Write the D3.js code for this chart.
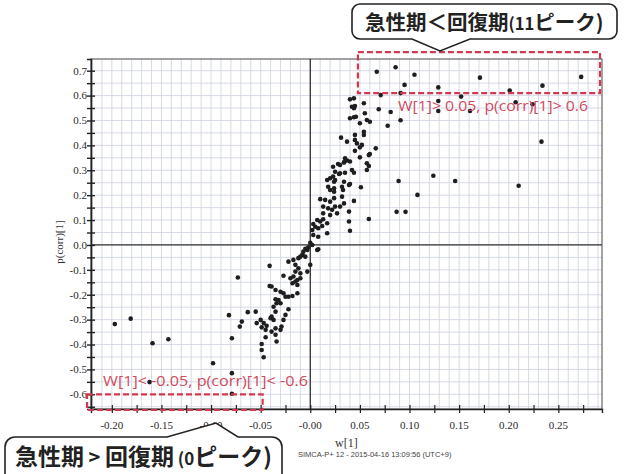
<!DOCTYPE html>
<html>
<head>
<meta charset="utf-8">
<script src="https://cdn.jsdelivr.net/npm/d3@7"></script>
<style>
  body { margin: 0; background: #fff; }
</style>
</head>
<body>
<script>
// loadings: w[1] and p(corr)[1]
const w1 = [
  0.067, 0.086, 0.105, 0.095, 0.129, 0.171, 0.201, 0.234, 0.273, 0.091, 0.071,
  0.152, 0.129, 0.207, 0.224, 0.081, 0.129, 0.161, 0.091, 0.078, 0.233, 0.089,
  0.124, 0.146, 0.210, 0.108, 0.087, 0.096, 0.069, 0.059, 0.040, 0.039, 0.044,
  0.066, 0.059, 0.059, 0.057, 0.051, 0.054, 0.040, 0.044, 0.042, 0.045, 0.044,
  0.055, 0.040, 0.044, 0.046, 0.057, 0.060, 0.050, 0.045, 0.054, 0.054, 0.031,
  0.037, 0.045, 0.047, 0.052, 0.050, 0.045, 0.035, 0.037, 0.034, 0.050, 0.060,
  0.057, 0.030, 0.023, 0.042, 0.044, 0.025, 0.029, 0.017, 0.020, 0.024, 0.025,
  0.034, 0.024, 0.040, 0.033, 0.028, 0.034, 0.040, 0.030, 0.035, 0.023, 0.032,
  0.039, 0.018, 0.020, 0.024, 0.010, 0.015, 0.020, 0.024, 0.032, 0.034, 0.030,
  0.013, 0.018, 0.022, 0.025, 0.013, 0.020, 0.027, 0.039, 0.007, 0.010, 0.013,
  0.017, 0.005, 0.008, 0.012, 0.017, 0.003, 0.008, 0.000, 0.002, -0.002, -0.003,
  -0.007, -0.008, -0.010, 0.008, 0.003, 0.002, -0.005, 0.007, -0.022, -0.017,
  -0.012, -0.005, 0.000, -0.003, -0.041, -0.073, -0.015, -0.012, -0.015, -0.010,
  -0.027, -0.020, -0.017, -0.013, -0.010, -0.018, -0.013, -0.015, -0.041, -0.039,
  -0.035, -0.030, -0.027, -0.025, -0.022, -0.018, -0.013, -0.035, -0.032, -0.034,
  -0.030, -0.022, -0.037, -0.035, -0.063, -0.055, -0.025, -0.027, -0.039, -0.037,
  -0.040, -0.069, -0.071, -0.050, -0.054, -0.047, -0.044, -0.049, -0.045, -0.029,
  -0.030, -0.035, -0.034, -0.045, -0.049, -0.047, -0.049, -0.079, -0.035, -0.039,
  -0.082, -0.079, -0.098, -0.079, -0.162, -0.197, -0.181, -0.159, -0.143
];
const pcorr1 = [
  0.696, 0.714, 0.684, 0.643, 0.633, 0.672, 0.620, 0.640, 0.675, 0.610, 0.602,
  0.596, 0.578, 0.573, 0.565, 0.534, 0.538, 0.538, 0.501, 0.479, 0.415, 0.257,
  0.278, 0.257, 0.238, 0.201, 0.133, 0.133, 0.545, 0.104, 0.057, 0.134, 0.177,
  0.388, 0.361, 0.317, 0.301, 0.232, 0.569, 0.585, 0.589, 0.555, 0.558, 0.549,
  0.529, 0.509, 0.513, 0.515, 0.502, 0.495, 0.489, 0.442, 0.455, 0.442, 0.431,
  0.415, 0.422, 0.408, 0.402, 0.392, 0.378, 0.348, 0.339, 0.332, 0.352, 0.365,
  0.328, 0.321, 0.314, 0.301, 0.290, 0.294, 0.285, 0.261, 0.268, 0.254, 0.261,
  0.254, 0.228, 0.245, 0.221, 0.325, 0.331, 0.335, 0.288, 0.290, 0.275, 0.234,
  0.241, 0.234, 0.221, 0.214, 0.184, 0.181, 0.174, 0.188, 0.194, 0.167, 0.154,
  0.154, 0.147, 0.141, 0.154, 0.127, 0.120, 0.127, 0.094, 0.100, 0.094, 0.103,
  0.087, 0.073, 0.067, 0.076, 0.047, 0.040, 0.033, 0.009, 0.000, -0.009, -0.020,
  -0.027, -0.040, -0.047, -0.017, 0.084, 0.060, -0.015, -0.020, -0.067, -0.060,
  -0.053, -0.047, -0.080, -0.107, -0.084, -0.131, -0.080, -0.094, -0.107, -0.114,
  -0.124, -0.134, -0.127, -0.141, -0.134, -0.154, -0.161, -0.147, -0.165, -0.167,
  -0.181, -0.188, -0.194, -0.208, -0.208, -0.205, -0.194, -0.218, -0.221, -0.234,
  -0.234, -0.258, -0.248, -0.268, -0.270, -0.268, -0.281, -0.301, -0.288, -0.301,
  -0.294, -0.308, -0.328, -0.301, -0.314, -0.314, -0.325, -0.331, -0.341, -0.328,
  -0.341, -0.361, -0.388, -0.371, -0.398, -0.451, -0.422, -0.375, -0.335, -0.348,
  -0.282, -0.515, -0.475, -0.598, -0.551, -0.318, -0.296, -0.395, -0.379
];
const xTicks = [-0.20, -0.15, -0.10, -0.05, 0, 0.05, 0.10, 0.15, 0.20, 0.25];
const yTicks = [0.7, 0.6, 0.5, 0.4, 0.3, 0.2, 0.1, 0, -0.1, -0.2, -0.3, -0.4, -0.5, -0.6];
const wCut = 0.05, pCut = 0.6;
const upLabel = "W[1]> 0.05, p(corr)[1]> 0.6";
const downLabel = "W[1]< -0.05, p(corr)[1]< -0.6";

const width = 628, height = 474;
const pl = 91, pr = 602, pt = 59, pb = 409;

const x = d3.scaleLinear().domain([-0.221, 0.294]).range([pl, pr]);
const y = d3.scaleLinear().domain([-0.659, 0.747]).range([pb, pt]);

const svg = d3.select("body").append("svg")
    .attr("width", width)
    .attr("height", height)
    .style("font-family", "'Liberation Serif', serif");

// grid
const grid = svg.append("g").attr("stroke", "#cdd1e2").attr("stroke-width", 0.8);
grid.selectAll("line.v")
  .data(d3.range(-22, 30).map(i => i / 100))
  .join("line")
    .attr("class", "v")
    .attr("x1", d => x(d)).attr("x2", d => x(d))
    .attr("y1", pt).attr("y2", pb);
grid.selectAll("line.h")
  .data(d3.range(-13, 15).map(i => i / 20))
  .join("line")
    .attr("class", "h")
    .attr("x1", pl).attr("x2", pr)
    .attr("y1", d => y(d)).attr("y2", d => y(d));

// frame
svg.append("rect")
    .attr("x", pl).attr("y", pt)
    .attr("width", pr - pl).attr("height", pb - pt)
    .attr("fill", "none").attr("stroke", "#666").attr("stroke-width", 1.2);

// zero lines
svg.append("line")
    .attr("x1", x(0)).attr("x2", x(0)).attr("y1", pt).attr("y2", pb)
    .attr("stroke", "#333").attr("stroke-width", 1.3);
svg.append("line")
    .attr("x1", pl).attr("x2", pr).attr("y1", y(0)).attr("y2", y(0))
    .attr("stroke", "#333").attr("stroke-width", 1.3);

// axes
const yAxis = svg.append("g")
    .attr("transform", `translate(${pl},0)`)
    .call(d3.axisLeft(y).tickValues(d3.range(-13, 15).map(i => i / 20)).tickSize(4).tickFormat(""));
yAxis.selectAll(".tick line").attr("x1", -4).attr("x2", 4).attr("stroke", "#222").attr("stroke-width", 1.4);
yAxis.select(".domain").attr("stroke", "#222").attr("stroke-width", 1.6);

const xAxis = svg.append("g")
    .attr("transform", `translate(0,${pb})`)
    .call(d3.axisBottom(x).tickValues(d3.range(-8, 12).map(i => i / 40)).tickSize(4).tickFormat(""));
xAxis.selectAll(".tick line").attr("y1", -4).attr("y2", 4).attr("stroke", "#222").attr("stroke-width", 1.2);
xAxis.select(".domain").attr("stroke", "#222").attr("stroke-width", 1.4);

svg.append("g")
    .attr("font-size", 11).attr("fill", "#2a2a2a").attr("text-anchor", "middle")
  .selectAll("text")
  .data(xTicks)
  .join("text")
    .attr("x", d => x(d))
    .attr("y", pb + 20)
    .text(d => d === 0 ? "-0.00" : d.toFixed(2));

svg.append("g")
    .attr("font-size", 11).attr("fill", "#2a2a2a").attr("text-anchor", "end")
  .selectAll("text")
  .data(yTicks)
  .join("text")
    .attr("x", pl - 4)
    .attr("y", d => y(d))
    .attr("dy", "0.35em")
    .text(d => d.toFixed(1));

svg.append("text")
    .attr("transform", `translate(63,${(pt + pb) / 2 + 8}) rotate(-90)`)
    .attr("text-anchor", "middle").attr("font-size", 11).attr("fill", "#333")
    .text("p(corr)[1]");

svg.append("text")
    .attr("x", 335).attr("y", 447)
    .attr("font-size", 12).attr("fill", "#333")
    .text("w[1]");

svg.append("text")
    .attr("x", 298).attr("y", 457)
    .attr("font-family", "'Liberation Sans', sans-serif")
    .attr("font-size", 7.5).attr("fill", "#444")
    .text("SIMCA-P+ 12 - 2015-04-16 13:09:56 (UTC+9)");

// points
svg.append("g")
    .attr("fill", "#1e1e1e")
  .selectAll("circle")
  .data(d3.zip(w1, pcorr1))
  .join("circle")
    .attr("cx", d => x(d[0]))
    .attr("cy", d => y(d[1]))
    .attr("r", 2.3);

// threshold boxes
const red = "#d2394f";
svg.append("rect")
    .attr("x", x(wCut - 0.002)).attr("y", y(0.775))
    .attr("width", x(0.292) - x(wCut - 0.002))
    .attr("height", y(pCut + 0.01) - y(0.775))
    .attr("fill", "none").attr("stroke", red).attr("stroke-width", 2.2)
    .attr("stroke-dasharray", "6,3");
svg.append("rect")
    .attr("x", x(-0.225)).attr("y", y(-pCut))
    .attr("width", x(-wCut + 0.002) - x(-0.225))
    .attr("height", y(-0.663) - y(-pCut))
    .attr("fill", "none").attr("stroke", red).attr("stroke-width", 2.2)
    .attr("stroke-dasharray", "6,3");

svg.append("text")
    .attr("x", 398).attr("y", 111)
    .attr("font-family", "'Open Sans', sans-serif")
    .attr("font-size", 14).attr("fill", "#cf4a5c")
    .attr("textLength", 190).attr("lengthAdjust", "spacingAndGlyphs")
    .text(upLabel);
svg.append("text")
    .attr("x", 103).attr("y", 386)
    .attr("font-family", "'Open Sans', sans-serif")
    .attr("font-size", 14).attr("fill", "#cf4a5c")
    .attr("textLength", 205).attr("lengthAdjust", "spacingAndGlyphs")
    .text(downLabel);

// callouts
function callout(x0, y0, x1, y1, r, notch, tip, onTop) {
  const p = d3.path();
  p.moveTo(x0 + r, y0);
  if (onTop) { p.lineTo(notch[0], y0); p.lineTo(tip[0], tip[1]); p.lineTo(notch[1], y0); }
  p.lineTo(x1 - r, y0);
  p.arcTo(x1, y0, x1, y0 + r, r);
  p.lineTo(x1, y1 - r);
  p.arcTo(x1, y1, x1 - r, y1, r);
  if (!onTop) { p.lineTo(notch[1], y1); p.lineTo(tip[0], tip[1]); p.lineTo(notch[0], y1); }
  p.lineTo(x0 + r, y1);
  p.arcTo(x0, y1, x0, y1 - r, r);
  p.lineTo(x0, y0 + r);
  p.arcTo(x0, y0, x0 + r, y0, r);
  p.closePath();
  return p.toString();
}
const cjk = "'Noto Sans CJK JP', sans-serif";

svg.append("path")
    .attr("d", callout(352, 4, 617, 39, 8, [412, 470], [440, 51], false))
    .attr("fill", "#fff").attr("stroke", "#222").attr("stroke-width", 1.6);
const t1 = svg.append("text")
    .attr("x", 365).attr("y", 30)
    .attr("font-family", cjk).attr("font-weight", 700)
    .attr("font-size", 20.5).attr("fill", "#222");
t1.append("tspan").text("急性期＜回復期");
t1.append("tspan").attr("font-size", 16.5).text("(11");
t1.append("tspan").text("ピーク)");

svg.append("path")
    .attr("d", callout(5, 437, 282, 492, 10, [167, 238], [216, 423], true))
    .attr("fill", "#fff").attr("stroke", "#222").attr("stroke-width", 1.6);
const t2 = svg.append("text")
    .attr("x", 15).attr("y", 465)
    .attr("font-family", cjk).attr("font-weight", 700)
    .attr("font-size", 23).attr("fill", "#222");
t2.append("tspan").text("急性期");
t2.append("tspan").attr("font-size", 20).text(" > ");
t2.append("tspan").text("回復期");
t2.append("tspan").attr("font-size", 17).text(" (0");
t2.append("tspan").text("ピーク)");
</script>
</body>
</html>
